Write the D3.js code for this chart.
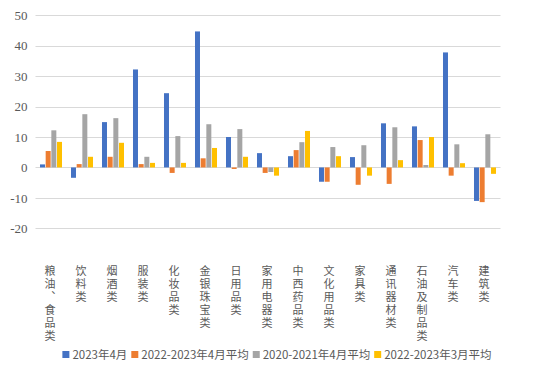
<!DOCTYPE html>
<html>
<head>
<meta charset="utf-8">
<script src="https://cdn.jsdelivr.net/npm/d3@7"></script>
<style>
    body { margin: 0; background: #fff; }
    text { font-family: "Noto Sans CJK SC", "Noto Sans", sans-serif; }
</style>
</head>
<body>
<svg id="chart" width="554" height="376"></svg>
<script>
// categories and series
const categories = ['粮油、食品类', '饮料类', '烟酒类', '服装类', '化妆品类', '金银珠宝类', '日用品类',
    '家用电器类', '中西药品类', '文化用品类', '家具类', '通讯器材类', '石油及制品类', '汽车类', '建筑类'];
const seriesNames = ['2023年4月', '2022-2023年4月平均', '2020-2021年4月平均', '2022-2023年3月平均'];
const apr2023 = [1.0, -3.4, 14.9, 32.2, 24.4, 44.7, 10.0, 4.7, 3.7, -4.7, 3.4, 14.5, 13.5, 37.8, -11.0];
const avgApr2223 = [5.4, 1.1, 3.5, 1.1, -1.8, 3.0, -0.5, -1.8, 5.7, -4.7, -5.7, -5.4, 9.0, -2.7, -11.4];
const avgApr2021 = [12.2, 17.5, 16.2, 3.5, 10.3, 14.2, 12.6, -1.5, 8.3, 6.7, 7.3, 13.2, 0.8, 7.6, 10.9];
const avgMar2223 = [8.4, 3.5, 8.1, 1.5, 1.5, 6.4, 3.5, -2.7, 12.0, 3.7, -2.7, 2.4, 10.0, 1.4, -2.1];
const yTicks = [-20, -10, 0, 10, 20, 30, 40, 50];
const colors = ['#4472c4', '#ed7d31', '#a5a5a5', '#ffc000'];

const series = [apr2023, avgApr2223, avgApr2021, avgMar2223];

const svg = d3.select('#chart');
const left = 35.5, right = 500.5;

const y = d3.scaleLinear().domain([-20, 50]).range([228.3, 15.3]);
const x0 = d3.scaleBand().domain(categories).range([left, right])
    .paddingInner(0.29).paddingOuter(0.145);
const x1 = d3.scaleBand().domain(d3.range(series.length)).range([0, x0.bandwidth()])
    .paddingInner(0.12);

// gridlines
svg.append('g')
    .selectAll('line')
    .data(yTicks)
    .join('line')
    .attr('x1', left)
    .attr('x2', right)
    .attr('y1', d => Math.round(y(d)) + 0.5)
    .attr('y2', d => Math.round(y(d)) + 0.5)
    .attr('stroke', '#d9d9d9')
    .attr('stroke-width', 1);

// y axis labels (plain hyphen for negatives, like the original)
const yAxis = svg.append('g')
    .attr('transform', 'translate(' + (left - 8) + ',0)')
    .call(d3.axisLeft(y).tickValues(yTicks).tickSize(0).tickPadding(0)
        .tickFormat(d => String(d)));
yAxis.select('.domain').remove();
yAxis.attr('font-family', null).attr('font-size', null);
yAxis.selectAll('text')
    .attr('fill', '#595959')
    .style('font-size', '13px')
    .style('font-family', '"Liberation Serif", serif');

// bars
const groups = svg.append('g')
    .selectAll('g')
    .data(categories)
    .join('g')
    .attr('transform', d => 'translate(' + x0(d) + ',0)');

groups.selectAll('rect')
    .data((d, i) => series.map((s, k) => ({k: k, v: s[i]})))
    .join('rect')
    .attr('x', d => x1(d.k))
    .attr('width', x1.bandwidth())
    .attr('y', d => Math.min(y(d.v), y(0)))
    .attr('height', d => Math.abs(y(d.v) - y(0)))
    .attr('fill', d => colors[d.k]);

// category labels, written top to bottom
svg.append('g')
    .selectAll('text')
    .data(categories)
    .join('text')
    .attr('x', d => x0(d) + x0.bandwidth() / 2 - 1)
    .attr('y', 265)
    .attr('fill', '#595959')
    .style('font-size', '11px')
    .style('writing-mode', 'vertical-rl')
    .style('text-orientation', 'upright')
    .style('letter-spacing', '2px')
    .text(d => d);

// legend, centred under the plot
const legend = svg.append('g').attr('transform', 'translate(0,359)');
const items = legend.selectAll('g')
    .data(seriesNames)
    .join('g');
items.append('rect')
    .attr('y', -8)
    .attr('width', 7)
    .attr('height', 7)
    .attr('fill', (d, i) => colors[i]);
items.append('text')
    .attr('x', 10)
    .attr('fill', '#595959')
    .style('font-size', '11.5px')
    .text(d => d);

let widths = [];
items.each(function () {
    widths.push(this.getBBox().width);
});
const gap = 4;
const total = d3.sum(widths) + gap * (widths.length - 1);
let cursor = 277 - total / 2;
items.attr('transform', (d, i) => {
    const tx = cursor;
    cursor += widths[i] + gap;
    return 'translate(' + tx + ',0)';
});
</script>
</body>
</html>
